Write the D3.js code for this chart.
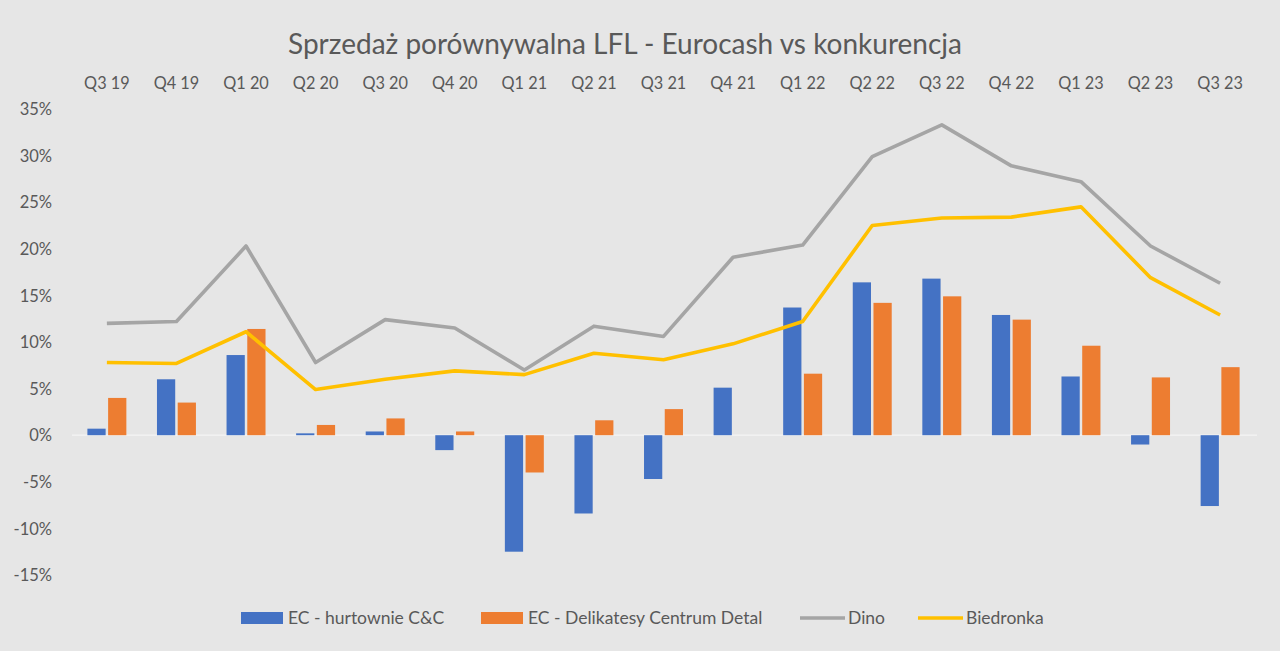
<!DOCTYPE html>
<html><head><meta charset="utf-8">
<script src="https://cdn.jsdelivr.net/npm/d3@7"></script>
<style>body{margin:0;background:#e6e6e6;}svg{display:block;}</style>
</head><body><svg id="c" width="1280" height="651"></svg>
<script>
const categories = ["Q3 19","Q4 19","Q1 20","Q2 20","Q3 20","Q4 20","Q1 21","Q2 21","Q3 21","Q4 21","Q1 22","Q2 22","Q3 22","Q4 22","Q1 23","Q2 23","Q3 23"];
const ecCC = [0.7,6.0,8.6,0.2,0.4,-1.6,-12.5,-8.4,-4.7,5.1,13.7,16.4,16.8,12.9,6.3,-1.0,-7.6];
const ecDetal = [4.0,3.5,11.4,1.1,1.8,0.4,-4.0,1.6,2.8,0,6.6,14.2,14.9,12.4,9.6,6.2,7.3];
const dino = [12.0,12.2,20.3,7.8,12.4,11.5,7.0,11.7,10.6,19.1,20.4,29.9,33.3,28.9,27.2,20.3,16.3];
const biedronka = [7.8,7.7,11.1,4.9,6.0,6.9,6.5,8.8,8.1,9.8,12.2,22.5,23.3,23.4,24.5,16.9,12.9];
const yTicks = [35,30,25,20,15,10,5,0,-5,-10,-15];
const seriesNames = ["EC - hurtownie C&C","EC - Delikatesy Centrum Detal","Dino","Biedronka"];

const colors = {cc:"#4472C4", det:"#ED7D31", dino:"#A5A5A5", bied:"#FFC000"};
const font = "Lato, 'Open Sans', sans-serif";
const txt = "#595959";

const svg = d3.select("#c");
svg.append("rect").attr("width",1280).attr("height",651).attr("fill","#e6e6e6");

const x0 = d3.scaleBand().domain(categories).range([70,1257]).paddingInner(0.44).paddingOuter(0.25);
const x1 = d3.scaleBand().domain(["cc","det"]).range([0,x0.bandwidth()]).paddingInner(0.12);
const y = d3.scaleLinear().domain([-15,35]).range([575,109]);

// title
svg.append("text").attr("x",625).attr("y",54).attr("text-anchor","middle")
  .attr("font-family",font).attr("font-size",28).attr("fill",txt)
  .text("Sprzedaż porównywalna LFL - Eurocash vs konkurencja");

// y axis labels
const yAxis = d3.axisLeft(y).tickValues(yTicks).tickSize(0).tickPadding(0).tickFormat(d=>d+"%");
const ya = svg.append("g").attr("transform","translate(52,0)").call(yAxis);
ya.select(".domain").remove();
ya.selectAll("text").attr("font-family",font).attr("font-size",16.5).attr("fill",txt).attr("dy","0.35em");

// top category labels
const xAxis = d3.axisTop(x0).tickSize(0).tickPadding(0);
const xa = svg.append("g").attr("transform","translate(0,89)").call(xAxis);
xa.select(".domain").remove();
xa.selectAll("text").attr("font-family",font).attr("font-size",16.3).attr("fill",txt);

// zero line
svg.append("line").attr("x1",72).attr("x2",1257).attr("y1",y(0)).attr("y2",y(0))
  .attr("stroke","#f4f4f4").attr("stroke-width",1.2);

// bars
const g = svg.append("g");
categories.forEach((c,i)=>{
  [["cc",ecCC[i]],["det",ecDetal[i]]].forEach(([k,v])=>{
    g.append("rect").attr("x",x0(c)+x1(k)).attr("width",x1.bandwidth())
      .attr("y",y(Math.max(0,v))).attr("height",Math.abs(y(v)-y(0)))
      .attr("fill",colors[k]);
  });
});

// lines
const cx = c => x0(c)+x0.bandwidth()/2;
const line = d3.line().x((d,i)=>cx(categories[i])).y(d=>y(d));
svg.append("path").datum(dino).attr("d",line).attr("fill","none").attr("stroke",colors.dino).attr("stroke-width",3.6).attr("stroke-linejoin","round");
svg.append("path").datum(biedronka).attr("d",line).attr("fill","none").attr("stroke",colors.bied).attr("stroke-width",3.6).attr("stroke-linejoin","round");

// legend
const leg = svg.append("g").attr("font-family",font).attr("font-size",17.5).attr("fill",txt);
const items = [
  {name:seriesNames[0], type:"rect", color:colors.cc, x:241},
  {name:seriesNames[1], type:"rect", color:colors.det, x:481},
  {name:seriesNames[2], type:"line", color:colors.dino, x:800},
  {name:seriesNames[3], type:"line", color:colors.bied, x:918}
];
items.forEach(it=>{
  if(it.type==="rect"){
    leg.append("rect").attr("x",it.x).attr("y",612).attr("width",42).attr("height",12).attr("fill",it.color);
  } else {
    leg.append("line").attr("x1",it.x).attr("x2",it.x+45).attr("y1",618).attr("y2",618).attr("stroke",it.color).attr("stroke-width",3.5);
  }
  leg.append("text").attr("x",it.x+(it.type==="rect"?47:48)).attr("y",618).attr("dy","0.35em").attr("fill",txt).text(it.name);
});
</script></body></html>
